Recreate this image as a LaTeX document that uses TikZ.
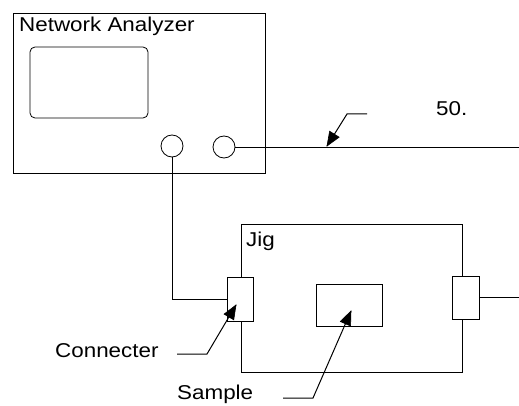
\documentclass[tikz,border=0pt]{standalone}
\usepackage{fontspec}
\setmainfont{Liberation Sans}[FakeStretch=1.12]
\tikzset{
  box/.style={draw, line width=0.8pt, inner sep=0pt},
  port/.style={draw, circle, line width=0.8pt, minimum size=22pt, inner sep=0pt},
  lbl/.style={font=\fontsize{20}{23}\selectfont, inner sep=0pt, anchor=base west},
  wire/.style={line width=0.8pt},
  leader/.style={line width=1pt},
  head/.style={fill=black, draw=black, line width=0.6pt, line join=miter},
}
% #1 tip coordinate, #2 direction angle of travel (degrees)
\newcommand{\myhead}[2]{%
  \filldraw[head] (#1) -- ([shift={(#2+202:15pt)}]#1) -- ([shift={(#2+158:15pt)}]#1) -- cycle;}
\begin{document}
\begin{tikzpicture}[x=1pt,y=1pt]
\useasboundingbox (0,0) rectangle (519,-406);
% network analyzer
\node[box, minimum width=252pt, minimum height=160pt] (na) at (139,-93) {};
\node[lbl] (natext) at (19,-32) {Network Analyzer};
\node[box, rounded corners=5pt, minimum width=118pt, minimum height=71pt] (screen) at (89,-82.5) {};
\node[port] (p1) at (172,-146) {};
\node[port] (p2) at (224,-147) {};
% jig
\node[box, minimum width=221pt, minimum height=148pt] (jig) at (351.5,-298) {};
\node[lbl] (jigtext) at (246,-246) {Jig};
\node[box, fill=white, minimum width=26pt, minimum height=44pt] (lc) at (240,-299) {};
\node[box, fill=white, minimum width=27pt, minimum height=43pt] (rc) at (465.5,-297.5) {};
\node[box, minimum width=66pt, minimum height=42pt] (sample) at (349,-305) {};
% cables
\coordinate (out1) at (519,-147);
\coordinate (out2) at (519,-297.5);
\draw[wire] (p1.south) |- (lc.west);
\draw[wire] (p2.east) -- (out1);
\draw[wire] (rc.east) -- (out2);
% labels
\node[lbl] (t50) at (436,-116) {50.};
\node[lbl] (tcon) at (55,-357) {Connecter};
\node[lbl] (tsam) at (177,-399) {Sample};
\coordinate (a50) at (367,-114);
\coordinate (k50) at (347,-114);
\coordinate (tip50) at (327,-146);
\coordinate (acon) at (177,-354);
\coordinate (kcon) at (207,-354);
\coordinate (tipcon) at (236,-305);
\coordinate (asam) at (283,-398);
\coordinate (ksam) at (313,-398);
\coordinate (tipsam) at (351,-311);
\draw[leader] (a50) -- (k50) -- (tip50);
\draw[leader] (acon) -- (kcon) -- (tipcon);
\draw[leader] (asam) -- (ksam) -- (tipsam);
\myhead{tip50}{238}
\myhead{tipcon}{59.4}
\myhead{tipsam}{66.4}
\end{tikzpicture}
\end{document}
